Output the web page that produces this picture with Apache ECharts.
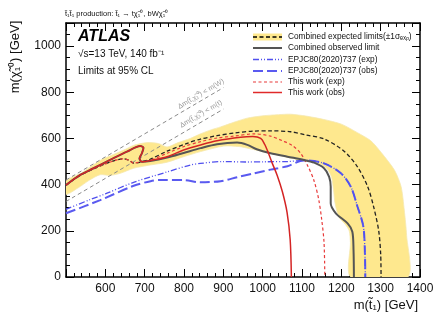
<!DOCTYPE html>
<html><head><meta charset="utf-8">
<script src="https://cdn.jsdelivr.net/npm/echarts@6/dist/echarts.min.js"></script>
<style>html,body{margin:0;padding:0;background:#fff}#c{width:437px;height:320px}</style>
</head><body><div id="c"></div>
<script>
// ---- data (GeV): [m(stop), m(neutralino)] ----
const bandExpected = [
  [500,415],[540,452],[587,505],[620,530],[650,552],[672,570],[706,582],[735,578],[757,563],[785,582],[816,600],[842,620],[870,638],[893,650],[930,672],[961,688],[1000,698],[1040,703],[1071,705],[1110,697],[1156,682],[1200,662],[1241,625],[1275,590],[1301,540],[1335,463],[1352,391],[1360,290],[1366,180],[1369,0],
  [1224,0],[1223,150],[1220,200],[1210,228],[1193,262],[1184,320],[1180,380],[1175,433],[1163,470],[1145,490],[1105,503],[1063,518],[1020,535],[969,555],[940,565],[901,567],[842,543],[799,521],[757,497],[714,485],[672,471],[638,449],[612,440],[587,443],[560,420],[530,385],[500,358]
];
const combinedExp = [[500,398],[536,440],[570,468],[600,490],[625,505],[645,512],[660,506],[672,493],[690,498],[714,510],[757,545],[808,579],[842,597],[884,612],[930,624],[978,632],[1020,633],[1071,629],[1110,615],[1156,598],[1207,545],[1241,477],[1267,391],[1282,305],[1295,200],[1300,100],[1301,0]];
const combinedObs = [[500,398],[536,442],[570,471],[612,507],[655,543],[689,567],[697,560],[693,536],[687,514],[693,499],[714,502],[757,517],[799,537],[842,558],[884,575],[935,582],[961,572],[985,553],[1020,536],[1063,521],[1105,507],[1131,495],[1156,471],[1169,434],[1173,391],[1173,319],[1186,276],[1216,232],[1228,196],[1231,117],[1232,0]];
const epjcExp = [[500,293],[561,335],[600,360],[672,410],[757,455],[816,485],[842,492],[900,500],[960,498],[1003,499],[1063,500],[1105,505],[1156,492],[1199,449],[1224,391],[1241,305],[1256,218],[1260,100],[1261,0]];
const epjcObs = [[500,276],[587,333],[672,395],[715,415],[740,420],[799,420],[842,410],[893,415],[935,432],[978,449],[1020,465],[1063,480],[1105,505],[1156,492],[1199,449],[1224,391],[1241,305],[1256,218],[1260,100],[1261,0]];
const thisExp = [[500,398],[536,440],[570,468],[600,490],[625,505],[645,512],[660,506],[672,493],[690,498],[714,505],[757,536],[800,565],[842,586],[884,602],[927,610],[978,620],[1020,610],[1050,590],[1075,570],[1097,535],[1115,480],[1130,420],[1142,340],[1150,250],[1156,150],[1158,0]];
const thisObs = [[500,398],[536,442],[570,471],[612,507],[655,543],[689,567],[697,560],[693,536],[687,514],[693,499],[714,504],[757,521],[799,550],[842,572],[884,590],[944,605],[975,608],[995,600],[1005,575],[1015,535],[1025,490],[1037,440],[1050,370],[1062,280],[1070,160],[1073,0]];
const lineDmW = [[500,420],[900,820]];
const lineDmTop = [[500,327],[900,727]];
const xRange = [500, 1400];
const yRange = [0, 1100];

const FONT = 'Liberation Sans, Arial, Helvetica, sans-serif';
const chart = echarts.init(document.getElementById('c'), null, {renderer:'canvas'});

function axisCommon(showLabel, pos, isX) {
  return {
    type:'value', position: pos,
    min: isX ? xRange[0] : yRange[0], max: isX ? xRange[1] : yRange[1],
    interval: isX ? 100 : 200,
    axisLine:{show:true, onZero:false, lineStyle:{color:'#000', width:1.5}},
    axisTick:{show:true, inside:true, length:8, lineStyle:{color:'#000', width:1}},
    minorTick:{show:true, splitNumber: isX ? 5 : 4, length:4, lineStyle:{color:'#000', width:1}},
    splitLine:{show:false}, minorSplitLine:{show:false},
    axisLabel:{show:showLabel, fontSize:12, color:'#111', fontFamily:FONT, margin: isX ? 6 : 5,
      formatter: v => isX ? (v === 500 ? '' : String(v)) : (v > 1000 ? '' : String(v))}
  };
}

const lineSeries = (name, data, color, width, type, z) => ({
  name, type:'line', data, showSymbol:false, smooth:0.3, z,
  lineStyle:{color, width, type}, clip:true, silent:true
});

const legendRows = [
  {y:37, text:'Combined expected limits(±1σₑₓₚ)', color:'#000', w:1.3, dash:[4,2.5], box:true},
  {y:48, text:'Combined observed limit', color:'#555', w:2, dash:null},
  {y:59.5, text:'EPJC80(2020)737 (exp)', color:'#5050ee', w:1.3, dash:[6,2,1,2,1,2]},
  {y:71, text:'EPJC80(2020)737 (obs)', color:'#5a5af0', w:2, dash:[10,4]},
  {y:82, text:'This work (exp)', color:'#e83a3a', w:1.2, dash:[3,2.5]},
  {y:92.5, text:'This work (obs)', color:'#e02a2a', w:1.5, dash:null}
];
const graphics = [];
legendRows.forEach(r => {
  if (r.box) graphics.push({type:'rect', shape:{x:253, y:r.y-3.5, width:29, height:7}, style:{fill:'#fee88e'}, z:50});
  graphics.push({type:'line', shape:{x1:253, y1:r.y, x2:282, y2:r.y}, style:{stroke:r.color, lineWidth:r.w, lineDash:r.dash || null}, z:51});
  graphics.push({type:'text', x:288, y:r.y, style:{text:r.text, fill:'#111', font:'8.3px '+FONT, textVerticalAlign:'middle', verticalAlign:'middle'}, z:51});
});
graphics.push(
  {type:'text', x:65, y:14, style:{text:'t̃₁t̃₁ production: t̃₁ → tχ̃₁⁰, bWχ̃₁⁰', fill:'#111', font:'7.5px '+FONT, verticalAlign:'middle'}},
  {type:'text', x:78, y:37, style:{text:'ATLAS', fill:'#000', font:'italic bold 16px '+FONT, verticalAlign:'middle'}},
  {type:'text', x:78, y:54, style:{text:'√s=13 TeV, 140 fb⁻¹', fill:'#111', font:'10px '+FONT, verticalAlign:'middle'}},
  {type:'text', x:78, y:71, style:{text:'Limits at 95% CL', fill:'#111', font:'10px '+FONT, verticalAlign:'middle'}},
  {type:'text', x:15, y:57, rotation:Math.PI/2, style:{text:'m(χ̃₁⁰) [GeV]', fill:'#111', font:'13px '+FONT, align:'center', verticalAlign:'middle'}},
  {type:'text', x:418, y:305, style:{text:'m(t̃₁) [GeV]', fill:'#111', font:'13px '+FONT, align:'right', verticalAlign:'middle'}},
  {type:'text', x:201, y:94, rotation:0.532, style:{text:'Δm(t̃,χ̃₁⁰) < m(W)', fill:'#999', font:'7px '+FONT, align:'center', verticalAlign:'middle'}},
  {type:'text', x:201, y:114, rotation:0.532, style:{text:'Δm(t̃,χ̃₁⁰) < m(t)', fill:'#999', font:'7px '+FONT, align:'center', verticalAlign:'middle'}}
);

chart.setOption({
  animation:false,
  backgroundColor:'#fff',
  textStyle:{fontFamily:FONT},
  grid:{left:66, right:17, top:23, bottom:43, containLabel:false},
  xAxis:[axisCommon(true,'bottom',true), axisCommon(false,'top',true)],
  yAxis:[axisCommon(true,'left',false), axisCommon(false,'right',false)],
  graphic:graphics,
  series:[
    {type:'custom', name:'band', data:[0], z:1, silent:true, clip:true,
      renderItem:(params, api) => ({type:'polygon',
        shape:{points: bandExpected.map(p => api.coord(p)), smooth:0.25},
        style:{fill:'#fee88e', stroke:'#f5e8b0', lineWidth:0.8}})},
    lineSeries('dmW', lineDmW, '#8a8a8a', 1, [4,3], 2),
    lineSeries('dmt', lineDmTop, '#8a8a8a', 1, [4,3], 2),
    lineSeries('EPJC obs', epjcObs, '#5a5af0', 2, [10,4], 3),
    lineSeries('EPJC exp', epjcExp, '#5050ee', 1.3, [6,2,1,2,1,2], 4),
    lineSeries('Combined exp', combinedExp, '#222', 1.3, [4,2.5], 5),
    lineSeries('This exp', thisExp, '#e83a3a', 1.2, [3,2.5], 6),
    lineSeries('Combined obs', combinedObs, '#555', 2, 'solid', 7),
    lineSeries('This obs', thisObs, '#d42424', 1.5, 'solid', 8)
  ]
});
</script></body></html>
